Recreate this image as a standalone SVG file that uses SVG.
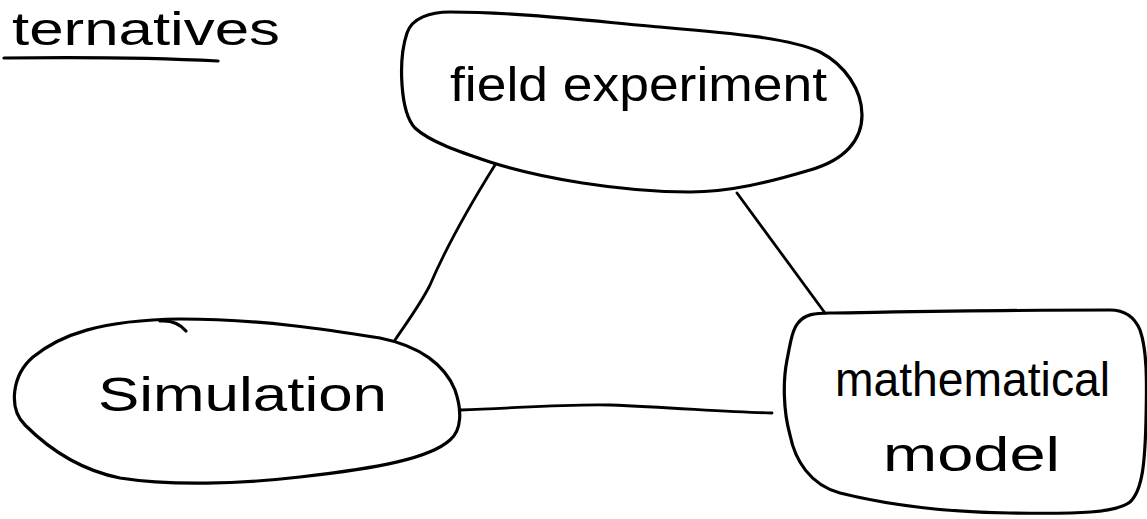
<svg xmlns="http://www.w3.org/2000/svg" width="1147" height="519" viewBox="0 0 1147 519">
<style>
.bg{fill:#ffffff}
.shape{fill:none;stroke:#000;stroke-width:3.2;stroke-linecap:round;stroke-linejoin:round}
.conn{fill:none;stroke:#000;stroke-width:2.8;stroke-linecap:round}
.lbl{font-family:"Liberation Sans","DejaVu Sans",sans-serif;font-size:48px;fill:#000}
.ttl{font-size:46px}
</style>
<rect class="bg" x="0" y="0" width="1147" height="519"/>
<g id="title">
<text class="lbl ttl" x="12" y="45" textLength="268" lengthAdjust="spacingAndGlyphs">ternatives</text>
<path class="shape" d="M 4,58 C 80,57 160,58 218,61"/>
</g>
<g id="connectors">
<path class="conn" d="M 495,165 C 470,205 445,250 430,285 C 420,305 405,325 395,340"/>
<path class="conn" d="M 737,193 L 825,313"/>
<path class="conn" d="M 460,410 C 520,408 560,404 610,405 C 680,408 730,412 772,413"/>
</g>
<g id="field-experiment">
<path class="shape" d="M 407,33 C 412,18 430,12 450,12 C 520,12 600,22 660,27 C 730,33 790,38 820,52 C 845,65 862,90 862,115 C 862,140 845,160 810,170 C 770,182 730,192 690,192 C 620,192 540,178 490,162 C 460,152 430,142 415,128 C 400,112 398,60 407,33 Z"/>
<text class="lbl" x="450" y="101" textLength="377" lengthAdjust="spacingAndGlyphs">field experiment</text>
</g>
<g id="simulation">
<path class="shape" d="M 33,357 C 60,335 100,320 180,319 C 260,319 330,330 380,338 C 420,346 445,365 455,390 C 462,410 462,430 450,440 C 430,458 380,468 300,477 C 240,484 170,486 120,478 C 80,470 50,450 25,425 C 8,408 12,375 33,357 Z"/>
<path class="shape" d="M 160,321 C 172,320 180,324 186,331"/>
<text class="lbl" x="98" y="411" textLength="289" lengthAdjust="spacingAndGlyphs">Simulation</text>
</g>
<g id="mathematical-model">
<path class="shape" d="M 798,323 C 805,314 815,313 830,313 C 900,312 1000,310 1110,310 C 1125,310 1135,318 1140,330 C 1147,350 1147,380 1146,420 C 1145,460 1143,490 1130,502 C 1115,513 1080,514 1010,513 C 940,512 880,503 840,493 C 810,485 795,460 790,435 C 783,410 783,380 787,360 C 790,345 792,330 798,323 Z"/>
<text class="lbl" x="835" y="396" textLength="275" lengthAdjust="spacingAndGlyphs">mathematical</text>
<text class="lbl" x="883" y="471" textLength="177" lengthAdjust="spacingAndGlyphs">model</text>
</g>
</svg>
